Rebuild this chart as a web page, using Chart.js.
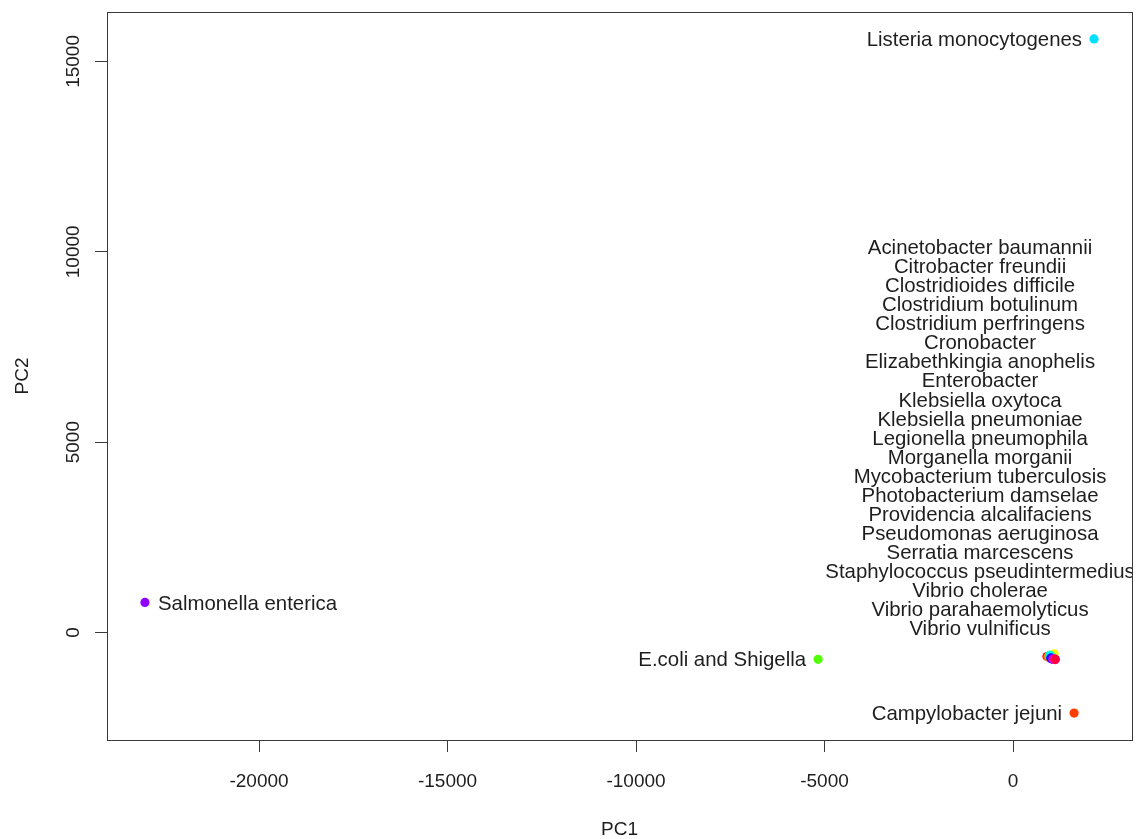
<!DOCTYPE html>
<html>
<head>
<meta charset="utf-8">
<script src="https://cdn.jsdelivr.net/npm/chart.js@4/dist/chart.umd.min.js"></script>
<style>
  html, body { margin: 0; padding: 0; background: #ffffff; }
  #wrap { width: 1137px; height: 839px; }
</style>
</head>
<body>
<div id="wrap"><canvas id="pca" width="1137" height="839"></canvas></div>
<script>
// Species scores on the first two principal components
const species = [
  "Acinetobacter baumannii", "Campylobacter jejuni", "Citrobacter freundii",
  "Clostridioides difficile", "Clostridium botulinum", "Clostridium perfringens",
  "Cronobacter", "E.coli and Shigella", "Elizabethkingia anophelis", "Enterobacter",
  "Klebsiella oxytoca", "Klebsiella pneumoniae", "Legionella pneumophila",
  "Listeria monocytogenes", "Morganella morganii", "Mycobacterium tuberculosis",
  "Photobacterium damselae", "Providencia alcalifaciens", "Pseudomonas aeruginosa",
  "Salmonella enterica", "Serratia marcescens", "Staphylococcus pseudintermedius",
  "Vibrio cholerae", "Vibrio parahaemolyticus", "Vibrio vulnificus"
];
const pc1 = [
  900, 1620, 930, 1070, 1090, 1000, 960, -5170, 975, 985,
  965, 990, 980, 2149, 1000, 1010, 1020, 1005, 1030,
  -23025, 1060, 1100, 1120, 1110, 1115
];
const pc2 = [
  -630, -2115, -640, -580, -560, -610, -620, -705, -615, -600,
  -610, -605, -600, 15590, -660, -680, -690, -670, -690,
  790, -700, -700, -710, -700, -705
];
// rainbow(25) palette, one colour per species
const pointColors = [
  "#FF0000", "#FF3D00", "#FF7A00", "#FFB800", "#FFF500", "#CCFF00", "#8FFF00",
  "#52FF00", "#14FF00", "#00FF29", "#00FF66", "#00FFA3", "#00FFE0", "#00E0FF",
  "#00A3FF", "#0066FF", "#0029FF", "#1400FF", "#5200FF", "#8F00FF", "#CC00FF",
  "#FF00F5", "#FF00B8", "#FF007A", "#FF003D"
];
const xTicks = [-20000, -15000, -10000, -5000, 0];
const yTicks = [0, 5000, 10000, 15000];

// Species that get their own label beside the point, and on which side
const soloLabelSide = {
  "Listeria monocytogenes": "left",
  "Salmonella enterica": "right",
  "E.coli and Shigella": "left",
  "Campylobacter jejuni": "left"
};
// Remaining species overlap near the origin; their names are stacked in one block
const clusterNames = species.filter(n => !(n in soloLabelSide));
const clusterAnchor = { x: -875, y: 105 };

const FONT = "'Liberation Sans', Arial, sans-serif";
const TEXT = "#1e1e1e";
const AXIS = "#3a3a3a";

// R-style axis range: data range extended by 4% on each side
function padRange(vals) {
  const lo = Math.min(...vals), hi = Math.max(...vals), d = (hi - lo) * 0.04;
  return [lo - d, hi + d];
}
const [xMin, xMax] = padRange(pc1);
const [yMin, yMax] = padRange(pc2);

const framePlugin = {
  id: 'frame',
  afterDraw(chart) {
    const { ctx, chartArea: a } = chart;
    ctx.save();
    ctx.strokeStyle = AXIS;
    ctx.lineWidth = 1;
    ctx.strokeRect(Math.round(a.left) + 0.5, Math.round(a.top) + 0.5,
                   Math.round(a.right - a.left), Math.round(a.bottom - a.top));
    ctx.restore();
  }
};

const labelPlugin = {
  id: 'pointLabels',
  afterDatasetsDraw(chart) {
    const { ctx, chartArea: a, scales } = chart;
    const meta = chart.getDatasetMeta(0);
    ctx.save();
    ctx.beginPath();
    ctx.rect(a.left, a.top, a.right - a.left, a.bottom - a.top);
    ctx.clip();
    ctx.font = "20.4px " + FONT;
    ctx.fillStyle = TEXT;
    ctx.textBaseline = 'middle';
    species.forEach((name, i) => {
      const side = soloLabelSide[name];
      if (!side) return;
      const p = meta.data[i];
      if (side === 'left') {
        ctx.textAlign = 'right';
        ctx.fillText(name, p.x - 12, p.y + 1);
      } else {
        ctx.textAlign = 'left';
        ctx.fillText(name, p.x + 13, p.y + 2);
      }
    });
    const cx = scales.x.getPixelForValue(clusterAnchor.x);
    const by = scales.y.getPixelForValue(clusterAnchor.y);
    const step = 19.05;
    ctx.textAlign = 'center';
    clusterNames.forEach((name, k) => {
      const line = clusterNames.length - 1 - k;
      ctx.fillText(name, cx, by - line * step + 1);
    });
    ctx.restore();
  }
};

new Chart(document.getElementById('pca'), {
  type: 'scatter',
  data: {
    datasets: [{
      data: species.map((n, i) => ({ x: pc1[i], y: pc2[i] })),
      pointBackgroundColor: pointColors,
      pointBorderWidth: 0,
      pointRadius: 4.6,
      pointHoverRadius: 4.6
    }]
  },
  options: {
    responsive: false,
    animation: false,
    events: [],
    layout: { padding: { top: 12, right: 5, left: 0, bottom: 0 } },
    plugins: { legend: { display: false }, tooltip: { enabled: false } },
    scales: {
      x: {
        type: 'linear',
        min: xMin, max: xMax,
        afterBuildTicks: s => { s.ticks = xTicks.map(v => ({ value: v })); },
        afterFit: s => { s.height = 99; },
        grid: { drawOnChartArea: false, drawTicks: true, tickLength: 12, color: AXIS, lineWidth: 1 },
        border: { display: true, color: AXIS, width: 1 },
        ticks: {
          autoSkip: false, maxRotation: 0, minRotation: 0, padding: 18,
          color: TEXT, font: { family: FONT, size: 19 },
          callback: v => String(v)
        },
        title: { display: true, text: 'PC1', color: TEXT, font: { family: FONT, size: 19 }, padding: { top: 0, bottom: -2 } }
      },
      y: {
        type: 'linear',
        min: yMin, max: yMax,
        afterBuildTicks: s => { s.ticks = yTicks.map(v => ({ value: v })); },
        afterFit: s => { s.width = 107; },
        grid: { drawOnChartArea: false, drawTicks: true, tickLength: 12, color: AXIS, lineWidth: 1 },
        border: { display: true, color: AXIS, width: 1 },
        ticks: {
          autoSkip: false, minRotation: 90, maxRotation: 90, crossAlign: 'center', padding: -5,
          color: TEXT, font: { family: FONT, size: 19 },
          callback: v => String(v)
        },
        title: { display: true, text: 'PC2', color: TEXT, font: { family: FONT, size: 19 }, padding: { top: 11, bottom: 0 } }
      }
    }
  },
  plugins: [framePlugin, labelPlugin]
});
</script>
</body>
</html>
